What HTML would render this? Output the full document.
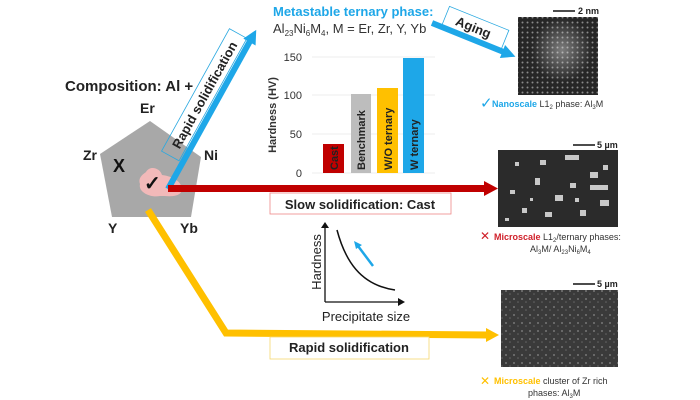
<!DOCTYPE html>
<html><head><meta charset="utf-8"><style>
body{margin:0;background:#fff}
svg{display:block;font-family:"Liberation Sans",sans-serif}
</style></head><body>
<svg width="700" height="400" viewBox="0 0 700 400" xmlns="http://www.w3.org/2000/svg">
<defs>
<pattern id="lat" width="5" height="5" patternUnits="userSpaceOnUse"><rect width="5" height="5" fill="#262626"/><circle cx="2.5" cy="2.5" r="1" fill="#8a8a8a"/></pattern>
<pattern id="grain" width="8" height="8" patternUnits="userSpaceOnUse"><rect width="8" height="8" fill="#3a3a3a"/><circle cx="2" cy="3" r="1" fill="#777"/><circle cx="6" cy="6" r="0.8" fill="#666"/></pattern>
<radialGradient id="glow"><stop offset="0" stop-color="#fff" stop-opacity="0.4"/><stop offset="1" stop-color="#fff" stop-opacity="0"/></radialGradient>
</defs>

<text x="65" y="91" font-size="15" font-weight="bold" fill="#222">Composition: Al +</text>
<polygon points="150,121 201,157 191,217 112,217 100,154" fill="#a8a8a8"/>
<path d="M146,172 C150,165 160,168 162,175 C170,176 182,180 182,190 C180,198 168,196 160,196 C150,198 138,192 140,184 C138,178 142,175 146,172Z" fill="#f2b9b9"/>
<text x="140" y="113" font-size="14" font-weight="bold" fill="#222">Er</text>
<text x="83" y="160" font-size="14" font-weight="bold" fill="#222">Zr</text>
<text x="204" y="160" font-size="14" font-weight="bold" fill="#222">Ni</text>
<text x="108" y="233" font-size="14" font-weight="bold" fill="#222">Y</text>
<text x="180" y="233" font-size="14" font-weight="bold" fill="#222">Yb</text>
<text x="113" y="172" font-size="18" font-weight="bold" fill="#111">X</text>
<text x="144" y="190" font-size="20" font-weight="bold" fill="#111">✓</text>

<g transform="translate(168,189) rotate(-61)">
<rect x="30" y="-24" width="140" height="20" fill="none" stroke="#29a8e0" stroke-width="0.8"/>
<text x="100" y="-9" font-size="13" font-weight="bold" text-anchor="middle" fill="#222">Rapid solidification</text>
<rect x="0" y="-3" width="170" height="6" fill="#1ea7e8"/>
<polygon points="168,-7 182,0 168,7" fill="#1ea7e8"/>
</g>

<rect x="168" y="185" width="318" height="7" fill="#c00000"/>
<polygon points="484,181 498,188.5 484,196" fill="#c00000"/>
<rect x="270" y="193" width="181" height="21" fill="#fff" stroke="#e88" stroke-width="0.8"/>
<text x="360" y="209" font-size="13" font-weight="bold" text-anchor="middle" fill="#222">Slow solidification: Cast</text>

<polyline points="148,210 226,333 488,335" fill="none" stroke="#ffc000" stroke-width="7" stroke-linejoin="miter"/>
<polygon points="486,328 499,335 486,342" fill="#ffc000"/>
<rect x="270" y="337" width="159" height="22" fill="#fff" stroke="#f5d76e" stroke-width="0.8"/>
<text x="349" y="352" font-size="13" font-weight="bold" text-anchor="middle" fill="#222">Rapid solidification</text>

<text x="273" y="16" font-size="13" font-weight="bold" fill="#1ea7e8">Metastable ternary phase:</text>
<text x="273" y="33" font-size="13" fill="#333">Al<tspan font-size="8" dy="3">23</tspan><tspan dy="-3">Ni</tspan><tspan font-size="8" dy="3">6</tspan><tspan dy="-3">M</tspan><tspan font-size="8" dy="3">4</tspan><tspan dy="-3">, M = Er, Zr, Y, Yb</tspan></text>

<g stroke="#e6e6e6" stroke-width="0.8"><line x1="312" y1="57" x2="435" y2="57"/><line x1="312" y1="95" x2="435" y2="95"/><line x1="312" y1="134" x2="435" y2="134"/><line x1="312" y1="173" x2="435" y2="173"/></g>
<g font-size="11" fill="#333" text-anchor="end"><text x="302" y="61">150</text><text x="302" y="99">100</text><text x="302" y="138">50</text><text x="302" y="177">0</text></g>
<text transform="translate(276,115) rotate(-90)" font-size="11" font-weight="bold" text-anchor="middle" fill="#333">Hardness (HV)</text>
<rect x="323" y="144" width="21" height="29" fill="#c00000"/>
<rect x="351" y="94" width="20" height="79" fill="#bdbdbd"/>
<rect x="377" y="88" width="21" height="85" fill="#ffc000"/>
<rect x="403" y="58" width="21" height="115" fill="#1ea7e8"/>
<g font-size="11" font-weight="bold" fill="#222">
<text transform="translate(338,170) rotate(-90)">Cast</text>
<text transform="translate(365,170) rotate(-90)">Benchmark</text>
<text transform="translate(392,170) rotate(-90)">W/O ternary</text>
<text transform="translate(418,170) rotate(-90)">W ternary</text>
</g>

<g transform="translate(432,23) rotate(22)">
<rect x="10" y="-22" width="64" height="20" fill="#fff" stroke="#29a8e0" stroke-width="0.8"/>
<text x="40" y="-7" font-size="13" font-weight="bold" text-anchor="middle" fill="#222">Aging</text>
<rect x="0" y="-3" width="78" height="6" fill="#1ea7e8"/>
<polygon points="76,-7 90,0 76,7" fill="#1ea7e8"/>
</g>

<rect x="518" y="17" width="80" height="78" fill="url(#lat)"/>
<ellipse cx="562" cy="50" rx="30" ry="32" fill="url(#glow)"/>
<line x1="553" y1="11" x2="575" y2="11" stroke="#111" stroke-width="1.5"/>
<text x="578" y="14" font-size="9" font-weight="bold" fill="#222">2 nm</text>
<text x="480" y="108" font-size="15" fill="#1ea7e8">✓</text>
<text x="492" y="107" font-size="9" fill="#333"><tspan font-weight="bold" fill="#1ea7e8">Nanoscale</tspan> L1<tspan font-size="6" dy="2">2</tspan><tspan dy="-2"> phase: Al</tspan><tspan font-size="6" dy="2">3</tspan><tspan dy="-2">M</tspan></text>

<rect x="498" y="150" width="120" height="77" fill="#2b2b2b"/>
<g fill="#c8c8c8">
<rect x="540" y="160" width="6" height="5"/><rect x="565" y="155" width="14" height="5"/><rect x="515" y="162" width="4" height="4"/><rect x="590" y="172" width="8" height="6"/><rect x="535" y="178" width="5" height="7"/><rect x="570" y="183" width="6" height="5"/><rect x="510" y="190" width="5" height="4"/><rect x="555" y="195" width="8" height="6"/><rect x="590" y="185" width="18" height="5"/><rect x="600" y="200" width="9" height="6"/><rect x="522" y="208" width="5" height="5"/><rect x="545" y="212" width="7" height="5"/><rect x="580" y="210" width="6" height="6"/><rect x="505" y="218" width="4" height="3"/><rect x="603" y="165" width="5" height="5"/><rect x="530" y="198" width="3" height="3"/><rect x="575" y="198" width="4" height="4"/>
</g>
<line x1="573" y1="145" x2="595" y2="145" stroke="#111" stroke-width="1.5"/>
<text x="597" y="148" font-size="9" font-weight="bold" fill="#222">5 µm</text>
<text x="480" y="240" font-size="12" fill="#d0202a">✕</text>
<text x="494" y="240" font-size="9" fill="#333"><tspan font-weight="bold" fill="#d0202a">Microscale</tspan> L1<tspan font-size="6" dy="2">2</tspan><tspan dy="-2">/ternary phases:</tspan></text>
<text x="530" y="252" font-size="9" fill="#333">Al<tspan font-size="6" dy="2">3</tspan><tspan dy="-2">M/ Al</tspan><tspan font-size="6" dy="2">23</tspan><tspan dy="-2">Ni</tspan><tspan font-size="6" dy="2">6</tspan><tspan dy="-2">M</tspan><tspan font-size="6" dy="2">4</tspan></text>

<rect x="501" y="290" width="117" height="77" fill="url(#grain)"/>
<line x1="573" y1="284" x2="595" y2="284" stroke="#111" stroke-width="1.5"/>
<text x="597" y="287" font-size="9" font-weight="bold" fill="#222">5 µm</text>
<text x="480" y="385" font-size="12" fill="#ffc000">✕</text>
<text x="494" y="384" font-size="9" fill="#333"><tspan font-weight="bold" fill="#ffc000">Microscale</tspan> cluster of Zr rich</text>
<text x="528" y="396" font-size="9" fill="#333">phases: Al<tspan font-size="6" dy="2">3</tspan><tspan dy="-2">M</tspan></text>

<line x1="325" y1="302" x2="325" y2="226" stroke="#111" stroke-width="1.3"/>
<polygon points="321,228 325,222 329,228" fill="#111"/>
<line x1="325" y1="302" x2="400" y2="302" stroke="#111" stroke-width="1.3"/>
<polygon points="398,298 405,302 398,306" fill="#111"/>
<path d="M337,230 C345,260 360,285 395,290" fill="none" stroke="#111" stroke-width="1.5"/>
<line x1="373" y1="266" x2="358" y2="246" stroke="#1ea7e8" stroke-width="2.5"/>
<polygon points="354,241 362,245 356,249" fill="#1ea7e8"/>
<text transform="translate(321,262) rotate(-90)" font-size="13" text-anchor="middle" fill="#222">Hardness</text>
<text x="366" y="321" font-size="13" text-anchor="middle" fill="#222">Precipitate size</text>
</svg>
</body></html>
